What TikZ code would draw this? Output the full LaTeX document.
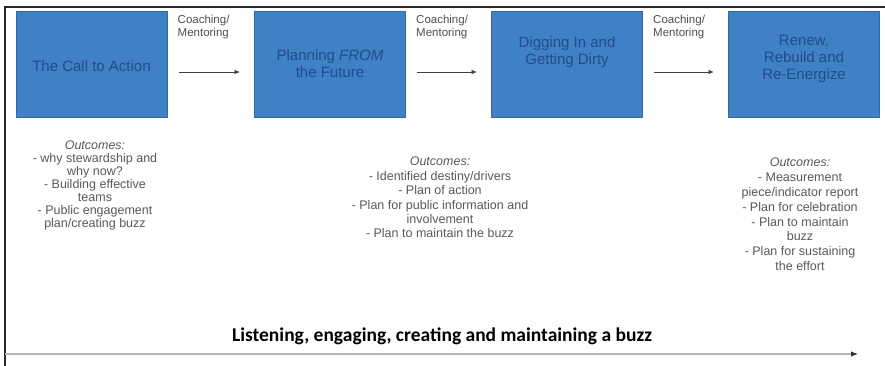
\documentclass[tikz,border=0pt]{standalone}
\usepackage{fontspec}
\setmainfont{Liberation Sans}
\newfontfamily\buzzfont{Carlito}
\usepackage{xcolor}
\usetikzlibrary{arrows.meta, positioning}
\definecolor{stageblue}{RGB}{64,128,196}
\definecolor{stageedge}{RGB}{52,104,168}
\definecolor{stagetext}{RGB}{32,78,138}
\definecolor{outgray}{RGB}{88,88,88}
\definecolor{coachgray}{RGB}{78,78,78}
\definecolor{framegray}{RGB}{40,40,40}
\definecolor{buzzgray}{RGB}{182,182,182}
\tikzset{
  stage/.style={rectangle, draw=stageedge, line width=1pt, fill=stageblue,
                minimum width=151pt, minimum height=106pt},
  stagelabel/.style={align=center, text=stagetext, inner sep=0pt,
                font=\fontsize{15}{17}\selectfont},
  coach/.style={anchor=north west, align=left, text=coachgray, inner sep=0pt,
                font=\fontsize{11.5}{13}\selectfont},
  outcome/.style={anchor=north, align=center, text=outgray, inner sep=0pt},
  flow/.style={-{Latex[length=5.5pt,width=4.5pt]}, line width=0.8pt, draw=black!75},
  buzzline/.style={line width=2.2pt, draw=buzzgray},
  buzzhead/.style={-{Latex[length=7pt,width=5.5pt]}, line width=1pt, draw=black!80},
  frame/.style={line width=2pt, draw=framegray},
}

\begin{document}
\begin{tikzpicture}[x=1pt, y=-1pt]
  \useasboundingbox (0,0) rectangle (885,366);

  %% frame
  \draw[frame] (885,7) -- (5,7) -- (5,366);

  %% stages
  \foreach \n/\cx/\ty/\lbl in {
    1/91.5/66/{The Call to Action},
    2/330/63.5/{Planning \textit{FROM}\\the Future},
    3/567/52.5/{Digging In and\\Getting Dirty},
    4/804/58.5/{Renew,\\Rebuild and\\Re-Energize}}
  {
    \node[stage] (s\n) at (\cx, 65) {};
    \node[stagelabel] (t\n) at (\cx, \ty) {\lbl};
  }

  %% coaching arrows
  \foreach \a/\b in {1/2, 2/3, 3/4}
  {
    \node[coach] (c\a) at ([xshift=10pt, yshift=-3pt]s\a.north east) {Coaching/\\Mentoring};
    \draw[flow] ([xshift=11pt, yshift=-7pt]s\a.east) -- ([xshift=-14pt, yshift=-7pt]s\b.west);
  }

  %% outcomes
  \node[outcome, font=\fontsize{12.5}{13}\selectfont] (o1) at (95, 141) {%
    \textit{Outcomes:}\\
    - why stewardship and\\
    why now?\\
    - Building effective\\
    teams\\
    - Public engagement\\
    plan/creating buzz};
  \node[outcome, font=\fontsize{12.5}{14.4}\selectfont] (o2) at (440, 157) {%
    \textit{Outcomes:}\\
    - Identified destiny/drivers\\
    - Plan of action\\
    - Plan for public information and\\
    involvement\\
    - Plan to maintain the buzz};
  \node[outcome, font=\fontsize{12.5}{14.8}\selectfont] (o3) at (800, 158) {%
    \textit{Outcomes:}\\
    - Measurement\\
    piece/indicator report\\
    - Plan for celebration\\
    - Plan to maintain\\
    buzz\\
    - Plan for sustaining\\
    the effort};

  %% bottom arrow
  \coordinate (bstart) at (5, 354);
  \coordinate (bturn) at (852, 354);
  \coordinate (bend) at (858, 354);
  \draw[buzzline] (bstart) -- (bturn);
  \draw[buzzhead] (bturn) -- (bend);
  \node[anchor=base, inner sep=0pt, font=\buzzfont\bfseries\fontsize{19.5}{22}\selectfont]
    (buzz) at (442, 341) {Listening, engaging, creating and maintaining a buzz};

\end{tikzpicture}
\end{document}
